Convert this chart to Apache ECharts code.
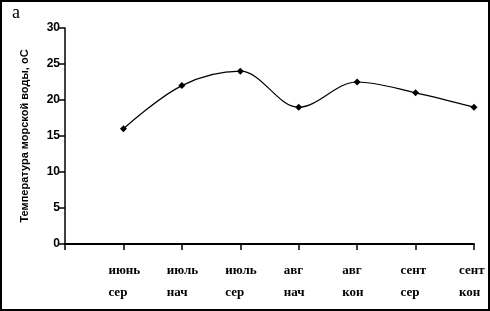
<!DOCTYPE html>
<html lang="ru">
<head>
<meta charset="utf-8">
<script src="https://cdn.jsdelivr.net/npm/echarts@6/dist/echarts.min.js"></script>
<style>
  html, body { margin: 0; padding: 0; background: #fff; }
  #main { width: 490px; height: 311px; }
</style>
</head>
<body>
<div id="main"></div>
<script>
// периоды наблюдений (первая позиция пустая — как в оригинале)
var categories = ['', 'июнь\nсер', 'июль\nнач', 'июль\nсер', 'авг\nнач', 'авг\nкон', 'сент\nсер', 'сент\nкон'];
var temps = [null, 16, 22, 24, 19, 22.5, 21, 19];
var yTicks = [0, 5, 10, 15, 20, 25, 30];

var chart = echarts.init(document.getElementById('main'));
chart.setOption({
  animation: false,
  backgroundColor: '#fff',
  grid: { left: 65, right: 16, top: 28, bottom: 67, outerBoundsMode: 'none' },
  graphic: [
    { type: 'rect', shape: { x: 1, y: 1, width: 488, height: 309 },
      style: { fill: 'none', stroke: '#000', lineWidth: 2 } },
    { type: 'text', left: 12, top: 4,
      style: { text: 'а', font: '18px "Liberation Serif"', fill: '#000' } }
  ],
  xAxis: {
    type: 'category',
    data: categories,
    boundaryGap: false,
    axisLine: { lineStyle: { color: '#000', width: 2 } },
    axisTick: { length: 6, lineStyle: { color: '#000', width: 1.5 } },
    axisLabel: {
      interval: 0,
      margin: 16,
      formatter: function (v) { return v ? '{a|' + v + '}' : ''; },
      rich: {
        a: { width: 44, align: 'left', padding: [0, 0, 0, 14],
             fontFamily: 'Liberation Serif', fontWeight: 'bold', fontSize: 13,
             lineHeight: 22, color: '#000' }
      }
    },
    splitLine: { show: false }
  },
  yAxis: {
    type: 'value',
    min: yTicks[0],
    max: yTicks[yTicks.length - 1],
    interval: 5,
    name: 'Температура морской воды, оС',
    nameLocation: 'middle',
    nameGap: 35,
    nameTextStyle: { fontFamily: 'Liberation Sans', fontWeight: 'bold', fontSize: 11, color: '#000' },
    axisLine: { show: true, lineStyle: { color: '#000', width: 1.5 } },
    axisTick: { show: true, length: 6, lineStyle: { color: '#000', width: 1.5 } },
    axisLabel: { margin: 5, fontFamily: 'Liberation Sans', fontWeight: 'bold', fontSize: 12, color: '#000' },
    splitLine: { show: false }
  },
  series: [{
    type: 'line',
    data: temps,
    smooth: 0.35,
    connectNulls: false,
    symbol: 'diamond',
    symbolSize: 7,
    itemStyle: { color: '#000' },
    lineStyle: { color: '#000', width: 1.2 }
  }]
});
</script>
</body>
</html>
